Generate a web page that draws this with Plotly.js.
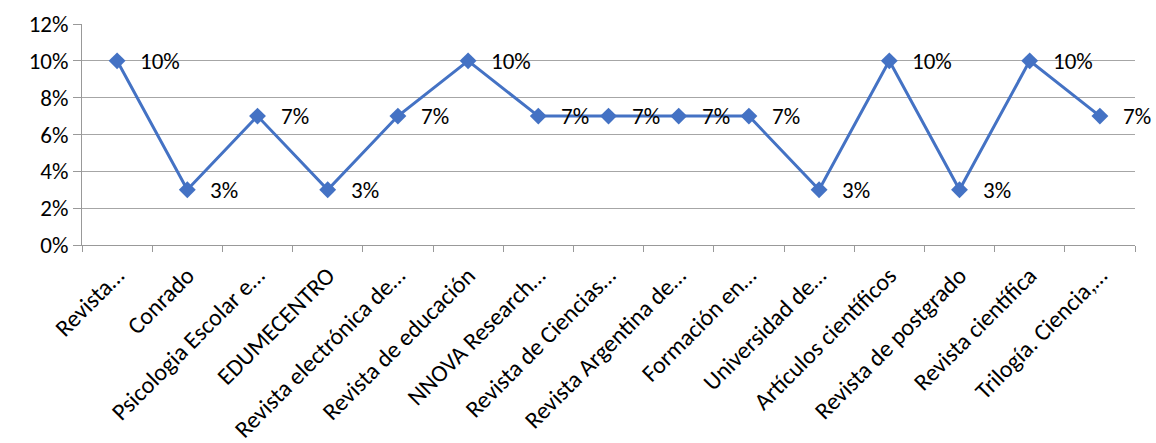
<!DOCTYPE html>
<html>
<head>
<meta charset="utf-8">
<script src="https://cdn.plot.ly/plotly-3.0.1.min.js"></script>
<style>
  html, body { margin: 0; padding: 0; background: #fff; }
  #chart { width: 1156px; height: 443px; }
</style>
</head>
<body>
<div id="chart"></div>
<script>
// category labels, as shown (truncated the same way as the original)
var revistas = [
	"Revista…", "Conrado", "Psicologia Escolar e…", "EDUMECENTRO",
	"Revista electrónica de…", "Revista de educación", "NNOVA Research…",
	"Revista de Ciencias…", "Revista Argentina de…", "Formación en…",
	"Universidad de…", "Artículos científicos", "Revista de postgrado",
	"Revista científica", "Trilogía. Ciencia,…"
];
// share of each journal
var porcentajes = [0.10, 0.03, 0.07, 0.03, 0.07, 0.10, 0.07, 0.07, 0.07, 0.07, 0.03, 0.10, 0.03, 0.10, 0.07];
var yTicks = [0, 0.02, 0.04, 0.06, 0.08, 0.10, 0.12];

var azul = '#4472C4';
var fuente = 'Carlito, Lato, "Open Sans", sans-serif';

// data labels to the right of each point
var etiquetas = [];
for(let i=0; i<revistas.length; i++){
	etiquetas.push({
		x: revistas[i],
		y: porcentajes[i],
		text: Math.round(porcentajes[i]*100) + '%',
		showarrow: false,
		xanchor: 'left',
		yanchor: 'middle',
		xshift: 21,
		font: { family: fuente, size: 23, color: '#000' }
	});
}

var data = [{
	x: revistas,
	y: porcentajes,
	type: 'scatter',
	mode: 'lines+markers',
	line: { color: azul, width: 3 },
	marker: { symbol: 'diamond', size: 13, color: azul },
	cliponaxis: false,
	hoverinfo: 'x+y'
}];

var layout = {
	width: 1156,
	height: 443,
	margin: { l: 82, r: 21, t: 24, b: 198, pad: 0 },
	paper_bgcolor: '#fff',
	plot_bgcolor: '#fff',
	showlegend: false,
	font: { family: fuente, size: 23, color: '#000' },
	xaxis: {
		type: 'category',
		automargin: false,
		range: [-0.5, revistas.length - 0.5],
		tickangle: -45,
		tickson: 'boundaries',
		ticks: 'outside',
		ticklen: 6,
		tickcolor: '#999',
		ticklabelstandoff: 6,
		showline: true,
		linecolor: '#999',
		linewidth: 1,
		showgrid: false,
		tickfont: { family: fuente, size: 24, color: '#000' },
		fixedrange: true
	},
	yaxis: {
		automargin: false,
		range: [0, 0.12],
		tickvals: yTicks,
		tickformat: '.0%',
		ticks: 'outside',
		ticklen: 8,
		tickcolor: '#999',
		showline: true,
		linecolor: '#999',
		linewidth: 1,
		showgrid: true,
		gridcolor: '#a6a6a6',
		gridwidth: 1,
		zeroline: false,
		tickfont: { family: fuente, size: 23, color: '#000' },
		fixedrange: true
	},
	annotations: etiquetas
};

Plotly.newPlot('chart', data, layout, { displayModeBar: false, staticPlot: true });
</script>
</body>
</html>
